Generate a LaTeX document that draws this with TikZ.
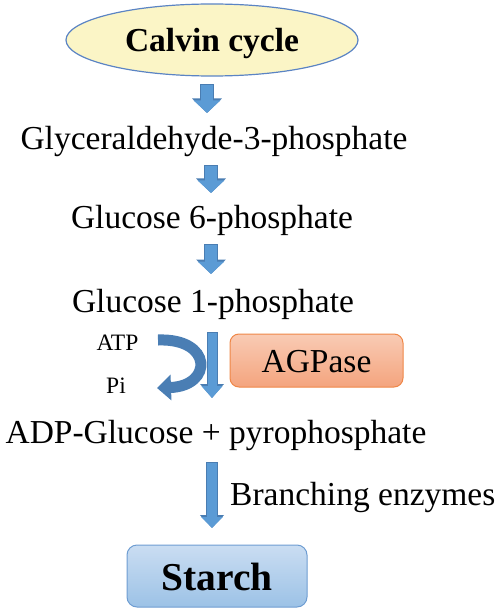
\documentclass[tikz,border=0pt]{standalone}
\usepackage{fontspec}
\setmainfont{Liberation Serif}
\usetikzlibrary{shapes.geometric,arrows.meta}
\definecolor{arrowblue}{HTML}{5B9BD5}
\definecolor{arrowborder}{HTML}{4A7DB2}
\definecolor{darkblue}{HTML}{4A7EB4}
\definecolor{ellfill}{HTML}{FBF5C6}
\definecolor{ellborder}{HTML}{5B84C4}
\definecolor{orangetop}{HTML}{F9CBB4}
\definecolor{orangebot}{HTML}{F4A47E}
\definecolor{orangeborder}{HTML}{EF8747}
\definecolor{bluetop}{HTML}{CADDF2}
\definecolor{bluebot}{HTML}{9CC2E6}
\definecolor{blueborder}{HTML}{6E9DD2}
\tikzset{
  txt/.style={inner sep=0pt, anchor=base, font=\fontsize{33.5}{38}\selectfont},
  small/.style={inner sep=0pt, anchor=base, font=\fontsize{23.5}{26}\selectfont},
  smallarrow/.style={preaction={draw=arrowborder, line width=13.5pt, shorten <=-0.8pt, -{Triangle[width=29pt,length=14.5pt]}},
    draw=arrowblue, line width=11.5pt, -{Triangle[width=26pt,length=12.5pt]}},
  midarrow/.style={preaction={draw=arrowborder, line width=11pt, shorten <=-0.8pt, -{Triangle[width=23pt,length=14pt]}},
    draw=arrowblue, line width=9pt, -{Triangle[width=20.5pt,length=12pt]}},
  bigarrow/.style={preaction={draw=arrowborder, line width=12pt, shorten <=-0.8pt, -{Triangle[width=23.5pt,length=13pt]}},
    draw=arrowblue, line width=10pt, -{Triangle[width=21pt,length=11pt]}},
  curvarrow/.style={draw=darkblue, line width=11pt, -{Triangle[width=25pt,length=14pt]}},
}
\begin{document}
\begin{tikzpicture}[x=1pt,y=-1pt]
\useasboundingbox (0,0) rectangle (500,612);
\node[ellipse, draw=ellborder, line width=1.2pt, fill=ellfill, minimum width=292pt, minimum height=72pt, text height=24pt, text depth=0pt, font=\fontsize{33.5}{38}\selectfont\bfseries] (calvin) at (212,40) {Calvin cycle};
\node[txt] (g3p) at (214,150) {Glyceraldehyde-3-phosphate};
\node[txt] (g6p) at (212,229) {Glucose 6-phosphate};
\node[txt] (g1p) at (213,312) {Glucose 1-phosphate};
\node[small] (atp) at (117.5,350) {ATP};
\node[small] (pi) at (116,393) {Pi};
\node[rounded corners=9pt, draw=orangeborder, line width=1pt, top color=orangetop, bottom color=orangebot, minimum width=173pt, minimum height=53pt, text height=23pt, text depth=0pt, font=\fontsize{33.5}{38}\selectfont] (agp) at (316.5,360.5) {AGPase};
\node[txt] (adp) at (216,443) {ADP-Glucose + pyrophosphate};
\node[txt, anchor=base west] (branch) at (230,505) {Branching enzymes};
\node[rounded corners=10pt, draw=blueborder, line width=1pt, top color=bluetop, bottom color=bluebot, minimum width=180pt, minimum height=62pt, text height=28pt, text depth=0pt, font=\fontsize{39.5}{44}\selectfont\bfseries] (starch) at (217,576) {Starch};
\coordinate (a1s) at (207,85);
\coordinate (a1e) at (207,113);
\coordinate (a2s) at (211,166);
\coordinate (a2e) at (211,193);
\coordinate (a3s) at (211,245);
\coordinate (a3e) at (211,274);
\coordinate (a4s) at (212,333);
\coordinate (a4e) at (212,398);
\coordinate (a5s) at (212,463);
\coordinate (a5e) at (212,528);
\coordinate (cs) at (158,340);
\coordinate (ce) at (157,388);
\draw[smallarrow] (a1s) -- (a1e);
\draw[smallarrow] (a2s) -- (a2e);
\draw[smallarrow] (a3s) -- (a3e);
\draw[midarrow] (a4s) -- (a4e);
\draw[bigarrow] (a5s) -- (a5e);
\draw[curvarrow] (cs) .. controls (213,338) and (213,386) .. (ce);
\end{tikzpicture}
\end{document}
